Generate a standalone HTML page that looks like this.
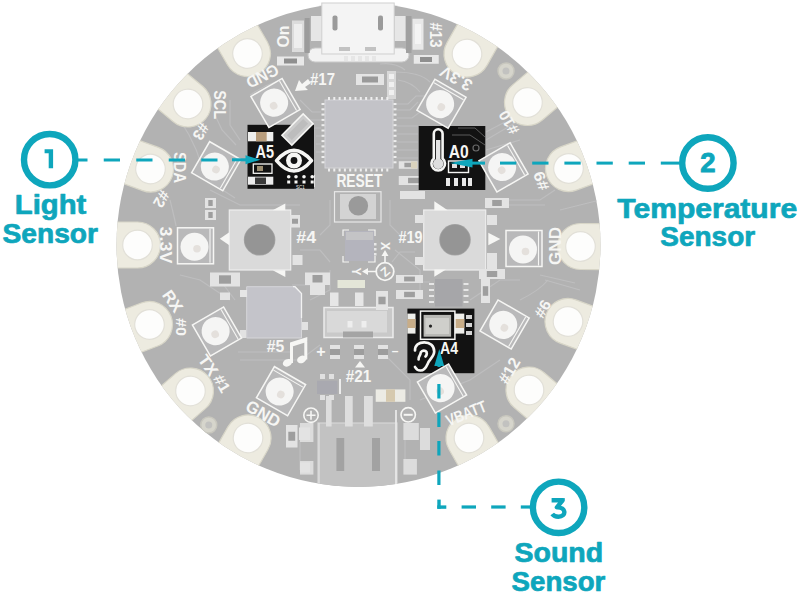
<!DOCTYPE html><html><head><meta charset="utf-8"><style>html,body{margin:0;padding:0;background:#fff;width:800px;height:600px;overflow:hidden}svg{display:block}text{font-family:"Liberation Sans",sans-serif}</style></head><body>
<svg width="800" height="600" viewBox="0 0 800 600">
<defs><clipPath id="bc"><circle cx="358.5" cy="245" r="242"/></clipPath></defs>
<rect width="800" height="600" fill="#fff"/>
<circle cx="358.5" cy="245" r="242" fill="#b2b2b2"/>
<g clip-path="url(#bc)">
<path d="M397 104 H408 L416 96 H432" fill="none" stroke="#bebebf" stroke-width="1.2"/>
<path d="M397 110 H410 L418 102" fill="none" stroke="#bebebf" stroke-width="1.2"/>
<path d="M397 118 H412 L420 112" fill="none" stroke="#bebebf" stroke-width="1.2"/>
<path d="M397 126 H418" fill="none" stroke="#bebebf" stroke-width="1.2"/>
<path d="M397 134 H418" fill="none" stroke="#bebebf" stroke-width="1.2"/>
<path d="M397 142 H418" fill="none" stroke="#bebebf" stroke-width="1.2"/>
<path d="M397 150 H418" fill="none" stroke="#bebebf" stroke-width="1.2"/>
<path d="M397 158 H418" fill="none" stroke="#bebebf" stroke-width="1.2"/>
<path d="M321 112 H312 L300 100" fill="none" stroke="#bebebf" stroke-width="1.2"/>
<path d="M321 120 H306 L298 128 V140" fill="none" stroke="#bebebf" stroke-width="1.2"/>
<path d="M321 128 H314 V150" fill="none" stroke="#bebebf" stroke-width="1.2"/>
<path d="M321 136 H316" fill="none" stroke="#bebebf" stroke-width="1.2"/>
<path d="M321 144 H316" fill="none" stroke="#bebebf" stroke-width="1.2"/>
<path d="M321 152 H316" fill="none" stroke="#bebebf" stroke-width="1.2"/>
<path d="M395 72 Q420 72 430 82" fill="none" stroke="#bebebf" stroke-width="1.2"/>
<path d="M398 80 Q412 82 420 92" fill="none" stroke="#bebebf" stroke-width="1.2"/>
<path d="M380 64 Q395 62 405 70" fill="none" stroke="#bebebf" stroke-width="1.2"/>
<path d="M240 140 L230 125 L230 100" fill="none" stroke="#bebebf" stroke-width="1.2"/>
<path d="M236 145 L222 130 L215 115" fill="none" stroke="#bebebf" stroke-width="1.2"/>
<path d="M210 190 L240 205 L300 205" fill="none" stroke="#bebebf" stroke-width="1.2"/>
<path d="M215 185 L235 198" fill="none" stroke="#bebebf" stroke-width="1.2"/>
<path d="M486 140 L520 120 L545 110" fill="none" stroke="#bebebf" stroke-width="1.2"/>
<path d="M486 150 L520 140" fill="none" stroke="#bebebf" stroke-width="1.2"/>
<path d="M486 132 L505 122" fill="none" stroke="#bebebf" stroke-width="1.2"/>
<path d="M230 300 L200 280 L180 275" fill="none" stroke="#bebebf" stroke-width="1.2"/>
<path d="M240 360 L300 360 L320 345" fill="none" stroke="#bebebf" stroke-width="1.2"/>
<path d="M238 352 L290 352" fill="none" stroke="#bebebf" stroke-width="1.2"/>
<path d="M500 200 L540 200 L555 190" fill="none" stroke="#bebebf" stroke-width="1.2"/>
<path d="M470 300 L500 280 L520 280" fill="none" stroke="#bebebf" stroke-width="1.2"/>
<path d="M505 205 L545 205" fill="none" stroke="#bebebf" stroke-width="1.2"/>
<path d="M560 210 L600 200" fill="none" stroke="#bebebf" stroke-width="1.2"/>
<path d="M545 280 L580 290" fill="none" stroke="#bebebf" stroke-width="1.2"/>
<path d="M540 275 L575 283" fill="none" stroke="#bebebf" stroke-width="1.2"/>
<path d="M420 400 L470 380 L500 360" fill="none" stroke="#bebebf" stroke-width="1.2"/>
<path d="M310 300 L330 290 L330 270" fill="none" stroke="#bebebf" stroke-width="1.2"/>
<path d="M395 250 L420 270 L420 290" fill="none" stroke="#bebebf" stroke-width="1.2"/>
<path d="M380 350 L410 380 L410 400" fill="none" stroke="#bebebf" stroke-width="1.2"/>
<path d="M220 280 L235 300" fill="none" stroke="#bebebf" stroke-width="1.2"/>
<path d="M300 430 L300 470" fill="none" stroke="#bebebf" stroke-width="1.2"/>
<path d="M405 430 L405 470" fill="none" stroke="#bebebf" stroke-width="1.2"/>
<path d="M180 120 Q200 150 205 180" fill="none" stroke="#bebebf" stroke-width="1.2"/>
<path d="M170 200 Q175 220 176 226" fill="none" stroke="#bebebf" stroke-width="1.2"/>
<path d="M520 300 Q540 290 548 280" fill="none" stroke="#bebebf" stroke-width="1.2"/>
<path d="M250 95 Q265 85 280 80" fill="none" stroke="#bebebf" stroke-width="1.2"/>
<path d="M330 200 V225 L320 235" fill="none" stroke="#bebebf" stroke-width="1.2"/>
<path d="M390 200 V225 L400 235" fill="none" stroke="#bebebf" stroke-width="1.2"/>
<path d="M300 250 H320 L330 262" fill="none" stroke="#bebebf" stroke-width="1.2"/>
<path d="M415 252 H400 L392 262" fill="none" stroke="#bebebf" stroke-width="1.2"/>
<path d="M292 285 H325" fill="none" stroke="#bebebf" stroke-width="1.2"/>
<path d="M395 282 H430" fill="none" stroke="#bebebf" stroke-width="1.2"/>
<g transform="rotate(-120.10 358.5 245)">
<path d="M579.844 222 A23 23 0 0 0 579.844 268 L619.844 268 L619.844 222 Z" fill="#edebe0" stroke="#d8d6c8" stroke-width="1.2"/>
<circle cx="579.844" cy="245" r="14.8" fill="#fdfdfc" stroke="#e2e0d8" stroke-width="1.2"/>
</g>
<g transform="rotate(-140.41 358.5 245)">
<path d="M579.749 222 A23 23 0 0 0 579.749 268 L619.749 268 L619.749 222 Z" fill="#edebe0" stroke="#d8d6c8" stroke-width="1.2"/>
<circle cx="579.749" cy="245" r="14.8" fill="#fdfdfc" stroke="#e2e0d8" stroke-width="1.2"/>
</g>
<g transform="rotate(-159.93 358.5 245)">
<path d="M579.95 222 A23 23 0 0 0 579.95 268 L619.95 268 L619.95 222 Z" fill="#edebe0" stroke="#d8d6c8" stroke-width="1.2"/>
<circle cx="579.95" cy="245" r="14.8" fill="#fdfdfc" stroke="#e2e0d8" stroke-width="1.2"/>
</g>
<g transform="rotate(180.00 358.5 245)">
<path d="M579.5 222 A23 23 0 0 0 579.5 268 L619.5 268 L619.5 222 Z" fill="#edebe0" stroke="#d8d6c8" stroke-width="1.2"/>
<circle cx="579.5" cy="245" r="14.8" fill="#fdfdfc" stroke="#e2e0d8" stroke-width="1.2"/>
</g>
<g transform="rotate(159.17 358.5 245)">
<path d="M582.11 222 A23 23 0 0 0 582.11 268 L622.11 268 L622.11 222 Z" fill="#edebe0" stroke="#d8d6c8" stroke-width="1.2"/>
<circle cx="582.11" cy="245" r="14.8" fill="#fdfdfc" stroke="#e2e0d8" stroke-width="1.2"/>
</g>
<g transform="rotate(139.01 358.5 245)">
<path d="M581.076 222 A23 23 0 0 0 581.076 268 L621.076 268 L621.076 222 Z" fill="#edebe0" stroke="#d8d6c8" stroke-width="1.2"/>
<circle cx="581.076" cy="245" r="14.8" fill="#fdfdfc" stroke="#e2e0d8" stroke-width="1.2"/>
</g>
<g transform="rotate(119.79 358.5 245)">
<path d="M580.894 222 A23 23 0 0 0 580.894 268 L620.894 268 L620.894 222 Z" fill="#edebe0" stroke="#d8d6c8" stroke-width="1.2"/>
<circle cx="580.894" cy="245" r="14.8" fill="#fdfdfc" stroke="#e2e0d8" stroke-width="1.2"/>
</g>
<g transform="rotate(60.21 358.5 245)">
<path d="M580.894 222 A23 23 0 0 0 580.894 268 L620.894 268 L620.894 222 Z" fill="#edebe0" stroke="#d8d6c8" stroke-width="1.2"/>
<circle cx="580.894" cy="245" r="14.8" fill="#fdfdfc" stroke="#e2e0d8" stroke-width="1.2"/>
</g>
<g transform="rotate(40.38 358.5 245)">
<path d="M582.32 222 A23 23 0 0 0 582.32 268 L622.32 268 L622.32 222 Z" fill="#edebe0" stroke="#d8d6c8" stroke-width="1.2"/>
<circle cx="582.32" cy="245" r="14.8" fill="#fdfdfc" stroke="#e2e0d8" stroke-width="1.2"/>
</g>
<g transform="rotate(20.06 358.5 245)">
<path d="M581.53 222 A23 23 0 0 0 581.53 268 L621.53 268 L621.53 222 Z" fill="#edebe0" stroke="#d8d6c8" stroke-width="1.2"/>
<circle cx="581.53" cy="245" r="14.8" fill="#fdfdfc" stroke="#e2e0d8" stroke-width="1.2"/>
</g>
<g transform="rotate(0.39 358.5 245)">
<path d="M580.505 222 A23 23 0 0 0 580.505 268 L620.505 268 L620.505 222 Z" fill="#edebe0" stroke="#d8d6c8" stroke-width="1.2"/>
<circle cx="580.505" cy="245" r="14.8" fill="#fdfdfc" stroke="#e2e0d8" stroke-width="1.2"/>
</g>
<g transform="rotate(-20.02 358.5 245)">
<path d="M582 222 A23 23 0 0 0 582 268 L622 268 L622 222 Z" fill="#edebe0" stroke="#d8d6c8" stroke-width="1.2"/>
<circle cx="582" cy="245" r="14.8" fill="#fdfdfc" stroke="#e2e0d8" stroke-width="1.2"/>
</g>
<g transform="rotate(-40.14 358.5 245)">
<path d="M579.559 222 A23 23 0 0 0 579.559 268 L619.559 268 L619.559 222 Z" fill="#edebe0" stroke="#d8d6c8" stroke-width="1.2"/>
<circle cx="579.559" cy="245" r="14.8" fill="#fdfdfc" stroke="#e2e0d8" stroke-width="1.2"/>
</g>
<g transform="rotate(-60.40 358.5 245)">
<path d="M578.166 222 A23 23 0 0 0 578.166 268 L618.166 268 L618.166 222 Z" fill="#edebe0" stroke="#d8d6c8" stroke-width="1.2"/>
<circle cx="578.166" cy="245" r="14.8" fill="#fdfdfc" stroke="#e2e0d8" stroke-width="1.2"/>
</g>
<circle cx="208.75" cy="425" r="8" fill="#d6d5cc" stroke="#c8c7be" stroke-width="1.5"/>
<circle cx="208.75" cy="425" r="3.5" fill="#c2c2c0"/>
<circle cx="506" cy="423.75" r="8" fill="#d6d5cc" stroke="#c8c7be" stroke-width="1.5"/>
<circle cx="506" cy="423.75" r="3.5" fill="#c2c2c0"/>
<circle cx="506" cy="71" r="8" fill="#d6d5cc" stroke="#c8c7be" stroke-width="1.5"/>
<circle cx="506" cy="71" r="3.5" fill="#c2c2c0"/>
</g>
<rect x="308" y="48" width="101" height="14" rx="7" fill="#f2f2f2" stroke="#c9c9c9" stroke-width="1"/>
<rect x="311" y="16" width="11" height="25" fill="#e6e6e6"/>
<rect x="394.5" y="16" width="11" height="25" fill="#e6e6e6"/>
<rect x="321.8" y="3" width="72.4" height="51" fill="#f4f4f4" stroke="#cfcfcf" stroke-width="1"/>
<rect x="332.5" y="15.5" width="5" height="15" rx="2" fill="#9a9a9a"/>
<rect x="378" y="15.5" width="5" height="15" rx="2" fill="#9a9a9a"/>
<rect x="339" y="47" width="11" height="4" fill="#c2c2c2"/><rect x="365" y="47" width="11" height="4" fill="#c2c2c2"/>
<rect x="344" y="56" width="4" height="5" fill="#e6e6e6"/>
<rect x="351" y="56" width="4" height="5" fill="#e6e6e6"/>
<rect x="358" y="56" width="4" height="5" fill="#e6e6e6"/>
<rect x="365" y="56" width="4" height="5" fill="#e6e6e6"/>
<rect x="372" y="56" width="4" height="5" fill="#e6e6e6"/>
<rect x="292" y="20.5" width="12" height="31.5" fill="#dcdcdc"/>
<rect x="294" y="24" width="8" height="24" fill="#eeeeee"/>
<rect x="304.7" y="18" width="5" height="35" fill="#9c9c9c"/><rect x="406" y="16" width="5.5" height="37" fill="#a0a0a0"/>
<rect x="277" y="56.5" width="27" height="9" fill="#e8e8e8"/><rect x="284" y="58.5" width="13" height="5" fill="#8f8f8f"/>
<rect x="412.5" y="18.75" width="11" height="31" fill="#e8e8e8"/><rect x="415" y="24" width="6" height="20" fill="#f4f4f4"/>
<rect x="413.75" y="55" width="25" height="8.75" fill="#e8e8e8"/><rect x="420" y="57" width="12" height="5" fill="#8f8f8f"/>
<rect x="356" y="74" width="28" height="11" fill="#e4e4e4"/><rect x="362" y="76.5" width="16" height="6" fill="#9a9a9a"/>
<rect x="325" y="100" width="68" height="68" fill="#c3c3c8" stroke="#d4d4d7" stroke-width="1"/>
<rect x="387" y="71" width="9" height="28" fill="#d8d8d8"/><rect x="389" y="74" width="5" height="5" fill="#f0f0f0"/><rect x="389" y="82" width="5" height="5" fill="#f0f0f0"/><rect x="389" y="90" width="5" height="5" fill="#f0f0f0"/>
<rect x="328" y="97" width="2" height="3" fill="#eee"/>
<rect x="328" y="168.5" width="2" height="3" fill="#eee"/>
<rect x="321.5" y="103" width="3" height="2" fill="#eee"/>
<rect x="393.5" y="103" width="3" height="2" fill="#eee"/>
<rect x="333.3" y="97" width="2" height="3" fill="#eee"/>
<rect x="333.3" y="168.5" width="2" height="3" fill="#eee"/>
<rect x="321.5" y="108.3" width="3" height="2" fill="#eee"/>
<rect x="393.5" y="108.3" width="3" height="2" fill="#eee"/>
<rect x="338.6" y="97" width="2" height="3" fill="#eee"/>
<rect x="338.6" y="168.5" width="2" height="3" fill="#eee"/>
<rect x="321.5" y="113.6" width="3" height="2" fill="#eee"/>
<rect x="393.5" y="113.6" width="3" height="2" fill="#eee"/>
<rect x="343.9" y="97" width="2" height="3" fill="#eee"/>
<rect x="343.9" y="168.5" width="2" height="3" fill="#eee"/>
<rect x="321.5" y="118.9" width="3" height="2" fill="#eee"/>
<rect x="393.5" y="118.9" width="3" height="2" fill="#eee"/>
<rect x="349.2" y="97" width="2" height="3" fill="#eee"/>
<rect x="349.2" y="168.5" width="2" height="3" fill="#eee"/>
<rect x="321.5" y="124.2" width="3" height="2" fill="#eee"/>
<rect x="393.5" y="124.2" width="3" height="2" fill="#eee"/>
<rect x="354.5" y="97" width="2" height="3" fill="#eee"/>
<rect x="354.5" y="168.5" width="2" height="3" fill="#eee"/>
<rect x="321.5" y="129.5" width="3" height="2" fill="#eee"/>
<rect x="393.5" y="129.5" width="3" height="2" fill="#eee"/>
<rect x="359.8" y="97" width="2" height="3" fill="#eee"/>
<rect x="359.8" y="168.5" width="2" height="3" fill="#eee"/>
<rect x="321.5" y="134.8" width="3" height="2" fill="#eee"/>
<rect x="393.5" y="134.8" width="3" height="2" fill="#eee"/>
<rect x="365.1" y="97" width="2" height="3" fill="#eee"/>
<rect x="365.1" y="168.5" width="2" height="3" fill="#eee"/>
<rect x="321.5" y="140.1" width="3" height="2" fill="#eee"/>
<rect x="393.5" y="140.1" width="3" height="2" fill="#eee"/>
<rect x="370.4" y="97" width="2" height="3" fill="#eee"/>
<rect x="370.4" y="168.5" width="2" height="3" fill="#eee"/>
<rect x="321.5" y="145.4" width="3" height="2" fill="#eee"/>
<rect x="393.5" y="145.4" width="3" height="2" fill="#eee"/>
<rect x="375.7" y="97" width="2" height="3" fill="#eee"/>
<rect x="375.7" y="168.5" width="2" height="3" fill="#eee"/>
<rect x="321.5" y="150.7" width="3" height="2" fill="#eee"/>
<rect x="393.5" y="150.7" width="3" height="2" fill="#eee"/>
<rect x="381" y="97" width="2" height="3" fill="#eee"/>
<rect x="381" y="168.5" width="2" height="3" fill="#eee"/>
<rect x="321.5" y="156" width="3" height="2" fill="#eee"/>
<rect x="393.5" y="156" width="3" height="2" fill="#eee"/>
<rect x="386.3" y="97" width="2" height="3" fill="#eee"/>
<rect x="386.3" y="168.5" width="2" height="3" fill="#eee"/>
<rect x="321.5" y="161.3" width="3" height="2" fill="#eee"/>
<rect x="393.5" y="161.3" width="3" height="2" fill="#eee"/>
<rect x="229.3" y="210" width="61.4" height="60" fill="#dadada" stroke="#eeeeee" stroke-width="1.2"/>
<circle cx="259.6" cy="239.8" r="15.8" fill="#a4a4a4"/>
<circle cx="259.6" cy="239.8" r="15" fill="#959595"/>
<rect x="423.7" y="210" width="62" height="60" fill="#dadada" stroke="#eeeeee" stroke-width="1.2"/>
<circle cx="455" cy="239.8" r="15.8" fill="#a4a4a4"/>
<circle cx="455" cy="239.8" r="15" fill="#959595"/>
<path d="M219.8 238.8 L229.3 232.3 L229.3 245.3 Z" fill="#f6f6f4"/>
<path d="M500.3 239 L488.3 232.7 L488.3 245.3 Z" fill="#f6f6f4"/>
<path d="M272.7 210.2 L285.3 210.2 L285.3 203.5 Z" fill="#f6f6f4"/>
<path d="M272.7 270.2 L285.3 270.2 L285.3 277 Z" fill="#f6f6f4"/>
<path d="M434.3 201.3 L447.7 210.2 L434.3 210.2 Z" fill="#f6f6f4"/>
<path d="M434.3 269.5 L446 269.5 L434.3 276.7 Z" fill="#f6f6f4"/>
<rect x="334.5" y="191.7" width="46.5" height="30.3" fill="none" stroke="#e8e8e8" stroke-width="1.2"/>
<rect x="340" y="194" width="36" height="25" fill="#d3d3d3"/>
<circle cx="358.3" cy="205.8" r="9.8" fill="#9a9a9a"/>
<rect x="345" y="231" width="29" height="30" fill="#b4b4bd"/><rect x="346" y="232" width="27" height="8" fill="#c4c4c6"/>
<path d="M343 236 V230 H349 M368 230 H375 V236 M375 256 V262 H368 M349 262 H343 V256" fill="none" stroke="#f6f6f4" stroke-width="1.2"/>
<circle cx="385" cy="271.5" r="8.8" fill="none" stroke="#f6f6f4" stroke-width="1.8"/>
<text x="385" y="276" font-size="12.5" font-weight="bold" fill="#f6f6f4" text-anchor="middle" transform="rotate(-40 385 271.5)">Z</text>
<path d="M385 262.5 V252 M376 271.5 H364" stroke="#f6f6f4" stroke-width="1.6"/>
<path d="M385 250 L381.5 256 L388.5 256 Z M362 271.5 L368 268 L368 275 Z" fill="#f6f6f4"/>
<text x="385" y="246" font-size="12" font-weight="bold" fill="#f6f6f4" text-anchor="middle" dominant-baseline="central" transform="rotate(90 385 246)">X</text>
<text x="356" y="271.5" font-size="12" font-weight="bold" fill="#f6f6f4" text-anchor="middle" dominant-baseline="central" transform="rotate(90 356 271.5)">Y</text>
<rect x="374" y="243" width="2.5" height="2.5" fill="#e8e8e8"/>
<rect x="374" y="248" width="2.5" height="2.5" fill="#e8e8e8"/>
<rect x="374" y="253" width="2.5" height="2.5" fill="#e8e8e8"/>
<path d="M246.7 286.7 H295 L301.5 293.5 V338 H246.7 Z" fill="#c4c4ca" stroke="#d6d6d9" stroke-width="1"/>
<path d="M293 286.7 H295 L301.5 293.5 V318" fill="none" stroke="#f2f2f2" stroke-width="1.3"/>
<rect x="240" y="290" width="7" height="7" fill="#e6e6e6"/><rect x="302" y="322" width="6" height="8" fill="#e2e2e2"/><rect x="240" y="330" width="6" height="8" fill="#e2e2e2"/>
<rect x="324" y="307.5" width="69" height="30" fill="#c9c9c9" stroke="#ececec" stroke-width="1.5"/>
<rect x="327" y="311" width="60" height="21.5" fill="#d9d9d9"/>
<rect x="343" y="331.5" width="30" height="6" fill="#a4a4a4"/>
<rect x="347.5" y="321" width="5" height="6.5" fill="#eeeeee"/><rect x="361.5" y="321" width="5" height="6.5" fill="#eeeeee"/>
<rect x="330" y="292.5" width="8.5" height="13.5" fill="#e6e6e6"/>
<rect x="355" y="292.5" width="8.5" height="13.5" fill="#e6e6e6"/>
<rect x="378" y="292.5" width="8.5" height="13.5" fill="#e6e6e6"/>
<rect x="337.5" y="280" width="27.5" height="8" fill="#e4e6d8"/>
<rect x="435" y="279" width="27.5" height="27.5" fill="#a6a6a9"/>
<rect x="429" y="283" width="5" height="2" fill="#e6e6e6"/><rect x="463.5" y="283" width="5" height="2" fill="#e6e6e6"/>
<rect x="429" y="289" width="5" height="2" fill="#e6e6e6"/><rect x="463.5" y="289" width="5" height="2" fill="#e6e6e6"/>
<rect x="429" y="295" width="5" height="2" fill="#e6e6e6"/><rect x="463.5" y="295" width="5" height="2" fill="#e6e6e6"/>
<rect x="429" y="301" width="5" height="2" fill="#e6e6e6"/><rect x="463.5" y="301" width="5" height="2" fill="#e6e6e6"/>
<rect x="330" y="345" width="10" height="14" fill="#e3e3e3"/><rect x="330" y="349" width="10" height="6" fill="#9d9d9d"/>
<rect x="354" y="345" width="10" height="14" fill="#e3e3e3"/><rect x="354" y="349" width="10" height="6" fill="#9d9d9d"/>
<rect x="378" y="345" width="10" height="14" fill="#e3e3e3"/><rect x="378" y="349" width="10" height="6" fill="#9d9d9d"/>
<g clip-path="url(#bc)">
<rect x="318" y="423" width="79" height="70" fill="#c2c2c2" stroke="#d6d6d6" stroke-width="1.2"/>
<path d="M396 410 V490" stroke="#e8e8e8" stroke-width="1.8"/><path d="M319 423 V490" stroke="#dcdcdc" stroke-width="1.5"/>
</g>
<rect x="336.4" y="438" width="7.8" height="33" fill="#a2a2a2"/>
<rect x="372" y="438" width="8" height="33" fill="#a2a2a2"/>
<rect x="345" y="396" width="7.7" height="30.5" fill="#dedede"/>
<rect x="364" y="396" width="8.8" height="30.5" fill="#dedede"/>
<rect x="326" y="396" width="5.6" height="30.5" fill="#dedede"/>
<rect x="317" y="380.7" width="20.4" height="13.3" fill="#a9a9b0"/>
<rect x="339" y="379" width="2" height="15" fill="#ececec"/>
<rect x="320" y="374" width="5" height="5" fill="#e0e0e0"/><rect x="329" y="374" width="5" height="5" fill="#e0e0e0"/><rect x="320" y="395" width="5" height="5" fill="#e0e0e0"/><rect x="329" y="395" width="5" height="5" fill="#e0e0e0"/>
<rect x="375.7" y="389.4" width="29.7" height="12.4" fill="#ecebe4"/><rect x="386" y="389.4" width="9" height="12.4" fill="#d6c9ae"/>
<rect x="300" y="423" width="13.4" height="19" fill="#dcdcdc"/>
<rect x="300" y="461" width="13.4" height="13.6" fill="#dcdcdc"/>
<rect x="403.4" y="423" width="15.4" height="17" fill="#dcdcdc"/>
<rect x="403.4" y="459" width="13.5" height="15.6" fill="#dcdcdc"/>
<rect x="287" y="425" width="8" height="18" fill="#dcdcdc"/>
<rect x="420" y="428" width="10" height="22" fill="#dcdcdc"/>
<circle cx="311" cy="415.2" r="7.2" fill="none" stroke="#f6f6f4" stroke-width="1.6"/><path d="M306.5 415.2 H315.5 M311 410.7 V419.7" stroke="#f6f6f4" stroke-width="1.6"/>
<circle cx="408.2" cy="414.8" r="7.2" fill="none" stroke="#f6f6f4" stroke-width="1.6"/><path d="M403.7 414.8 H412.7" stroke="#f6f6f4" stroke-width="2"/>
<rect x="398.75" y="161.25" width="18.75" height="7.5" fill="#e3e3e3"/>
<rect x="404.375" y="162.75" width="7.5" height="4.5" fill="#9e9e9e"/>
<rect x="398.75" y="176" width="31" height="9" fill="#e3e3e3"/>
<rect x="408.05" y="177.8" width="12.4" height="5.4" fill="#9e9e9e"/>
<rect x="400" y="191" width="25" height="8" fill="#e3e3e3"/>
<rect x="300" y="175" width="15" height="12" fill="#e3e3e3"/>
<rect x="485" y="198" width="24" height="10" fill="#e3e3e3"/>
<rect x="492.2" y="200" width="9.6" height="6" fill="#9e9e9e"/>
<rect x="487" y="215" width="10" height="10" fill="#e3e3e3"/>
<rect x="487" y="253" width="10" height="16" fill="#e3e3e3"/>
<rect x="479" y="269" width="26" height="10" fill="#e3e3e3"/>
<rect x="486.8" y="271" width="10.4" height="6" fill="#9e9e9e"/>
<rect x="481" y="279" width="9" height="24" fill="#e3e3e3"/>
<rect x="482.8" y="286.2" width="5.4" height="9.6" fill="#9e9e9e"/>
<rect x="396" y="275" width="27" height="8" fill="#e3e3e3"/>
<rect x="404.1" y="276.6" width="10.8" height="4.8" fill="#9e9e9e"/>
<rect x="396" y="290" width="27" height="9" fill="#e3e3e3"/>
<rect x="404.1" y="291.8" width="10.8" height="5.4" fill="#9e9e9e"/>
<rect x="376" y="291" width="12" height="19" fill="#e3e3e3"/>
<rect x="378.4" y="296.7" width="7.2" height="7.6" fill="#9e9e9e"/>
<rect x="415" y="215" width="9" height="8" fill="#e3e3e3"/>
<rect x="415" y="257" width="9" height="8" fill="#e3e3e3"/>
<rect x="205" y="198" width="11" height="10" fill="#e3e3e3"/>
<rect x="208.3" y="200" width="4.4" height="6" fill="#9e9e9e"/>
<rect x="205" y="210" width="11" height="10" fill="#e3e3e3"/>
<rect x="208.3" y="212" width="4.4" height="6" fill="#9e9e9e"/>
<rect x="210" y="272.5" width="30" height="14" fill="#e3e3e3"/>
<rect x="219" y="275.3" width="12" height="8.4" fill="#9e9e9e"/>
<rect x="220" y="292.5" width="10" height="7.5" fill="#e3e3e3"/>
<rect x="290" y="215" width="10" height="12.5" fill="#e3e3e3"/>
<rect x="292" y="218.75" width="6" height="5" fill="#9e9e9e"/>
<rect x="292.5" y="255" width="10" height="10" fill="#e3e3e3"/>
<rect x="305" y="272.5" width="25" height="12.5" fill="#e3e3e3"/>
<rect x="312.5" y="275" width="10" height="7.5" fill="#9e9e9e"/>
<rect x="310" y="285" width="15" height="10" fill="#e3e3e3"/>
<rect x="286" y="425" width="11.5" height="22.5" fill="#e3e3e3"/>
<rect x="288.3" y="431.75" width="6.9" height="9" fill="#9e9e9e"/>
<rect x="299" y="427.5" width="11" height="12.5" fill="#e3e3e3"/>
<rect x="300" y="462.5" width="10" height="10" fill="#e3e3e3"/>
<rect x="411" y="161.5" width="6" height="7" fill="#d9d2bd"/>
<rect x="247.5" y="124.8" width="66.5" height="64" fill="#121212"/>
<rect x="418.7" y="126" width="66.6" height="64" fill="#121212"/>
<rect x="407.4" y="308.6" width="67" height="64.6" fill="#121212"/>
<rect x="248" y="132" width="25.3" height="9.3" fill="#f0f0ee"/><rect x="256" y="132" width="10.7" height="9.3" fill="#b89d7c"/>
<rect x="253.3" y="164" width="18.7" height="9.3" fill="none" stroke="#f6f6f4" stroke-width="1.3"/><rect x="257" y="166" width="6" height="5" fill="#9b8d70"/>
<rect x="248" y="176.7" width="25.3" height="8" fill="#ececec"/><rect x="255" y="177.5" width="11" height="6.5" fill="#3a3a3a"/>
<g transform="rotate(-45 297.5 129.5)"><rect x="282.5" y="122.5" width="30" height="14" fill="#cbcbcb" stroke="#f6f6f4" stroke-width="1.6"/><rect x="286" y="126" width="23" height="7" fill="#bdbdbd"/></g>
<circle cx="288.7" cy="176.7" r="1.8" fill="#f6f6f4"/><rect x="287.2" y="180.5" width="3" height="3" fill="#f6f6f4"/>
<circle cx="296" cy="176.7" r="1.8" fill="#f6f6f4"/><rect x="294.5" y="180.5" width="3" height="3" fill="#f6f6f4"/>
<circle cx="304" cy="176.7" r="1.8" fill="#f6f6f4"/><rect x="302.5" y="180.5" width="3" height="3" fill="#f6f6f4"/>
<circle cx="312.2" cy="176.7" r="1.8" fill="#f6f6f4"/><rect x="310.7" y="180.5" width="3" height="3" fill="#f6f6f4"/>
<text x="300.5" y="189" font-size="4.5" fill="#f6f6f4" text-anchor="middle">SC1</text>
<text x="255.5" y="158.4" font-size="17.5" font-weight="bold" fill="#f6f6f4" textLength="18.5" lengthAdjust="spacingAndGlyphs">A5</text>
<path d="M276.5 160.7 Q294 140 311.5 160.7 Q294 181.4 276.5 160.7 Z" fill="#121212" stroke="#f6f6f4" stroke-width="3.6" stroke-linejoin="round"/>
<circle cx="294" cy="160.5" r="8" fill="#f6f6f4"/><circle cx="294" cy="160.5" r="3.4" fill="#121212"/>
<path d="M433.8 158.5 V133.7 A4.4 4.4 0 0 1 442.6 133.7 V158.5 A6.8 6.8 0 1 1 433.8 158.5 Z" fill="#121212" stroke="#f6f6f4" stroke-width="2.6"/>
<rect x="436" y="140" width="4.4" height="22" fill="#e4e4e4"/><circle cx="438.2" cy="163.7" r="5.2" fill="#dedede"/>
<text x="448.7" y="158" font-size="17.5" font-weight="bold" fill="#f6f6f4" textLength="20" lengthAdjust="spacingAndGlyphs">A0</text>
<rect x="448.5" y="161" width="20" height="11.5" fill="none" stroke="#f6f6f4" stroke-width="1.4"/><rect x="452" y="164" width="5" height="4" fill="#e0e0e0"/><rect x="460" y="164" width="5" height="4" fill="#e0e0e0"/>
<rect x="446" y="178" width="4" height="8" fill="#e8e8e8"/>
<rect x="454" y="178" width="4" height="8" fill="#e8e8e8"/>
<rect x="462" y="178" width="4" height="8" fill="#e8e8e8"/>
<rect x="468" y="178" width="4" height="8" fill="#e8e8e8"/>
<path d="M452 135 L470 135 L485 145 M458 128 L475 128 L485 137" fill="none" stroke="#5a5a5a" stroke-width="1"/>
<circle cx="476" cy="148" r="3" fill="none" stroke="#6a6a6a" stroke-width="1.2"/>
<rect x="407.4" y="313.6" width="8.1" height="20" fill="#eeeeea"/><rect x="407.4" y="319" width="8.1" height="9" fill="#c8ad88"/>
<rect x="455" y="313.6" width="9.3" height="20" fill="#eeeeea"/><rect x="455" y="319" width="9.3" height="9" fill="#c8ad88"/>
<rect x="420.5" y="311.1" width="34.4" height="28.2" fill="none" stroke="#f6f6f4" stroke-width="1.5"/>
<rect x="423.6" y="314.9" width="27.5" height="21.8" fill="#b8b8b4"/><rect x="425.5" y="318" width="23.5" height="16" fill="#cfcfcb"/>
<circle cx="430.5" cy="326.1" r="1.6" fill="#222"/>
<rect x="466" y="315" width="6" height="4" fill="#d5d5d5"/><rect x="466" y="323" width="6" height="4" fill="#d5d5d5"/><rect x="466" y="331" width="6" height="4" fill="#d5d5d5"/>
<path d="M415 350.5 C415 345 419 342.3 424.3 342.3 C430 342.3 434.2 346 434.2 351.5 C434.2 356 430.5 358.5 428.5 362 C426.8 365.5 425.5 370.5 420.5 370.5 C418 370.5 416 369 415 367 M418.6 359.5 C418 356.5 420.5 355.5 420.5 353.5 C420.5 351.5 423 350 425.5 351 C427.5 352 427 355 425.5 356.5" fill="none" stroke="#f6f6f4" stroke-width="2.7" stroke-linecap="round"/>
<text x="440" y="354.3" font-size="16" font-weight="bold" fill="#f6f6f4" textLength="18" lengthAdjust="spacingAndGlyphs">A4</text>
<g transform="translate(275.50 103.00) rotate(60)">
<rect x="-18" y="-18" width="36" height="36" fill="#b9b9ba" stroke="#f6f6f4" stroke-width="1.5"/>
<path d="M-17 -14.5 H17" stroke="#f6f6f4" stroke-width="1.1"/>
<circle cx="-1" cy="1" r="14" fill="#f5f5f4"/>
<circle cx="1.5" cy="3" r="3.8" fill="#e4e0dc"/>
</g>
<g transform="translate(216.20 166.20) rotate(30)">
<rect x="-18" y="-18" width="36" height="36" fill="#b9b9ba" stroke="#f6f6f4" stroke-width="1.5"/>
<path d="M14.5 -17 V17" stroke="#f6f6f4" stroke-width="1.1"/>
<circle cx="-1" cy="1" r="14" fill="#f5f5f4"/>
<circle cx="1.5" cy="3" r="3.8" fill="#e4e0dc"/>
</g>
<g transform="translate(195.50 245.80) rotate(0)">
<rect x="-18" y="-18" width="36" height="36" fill="#b9b9ba" stroke="#f6f6f4" stroke-width="1.5"/>
<path d="M14.5 -17 V17" stroke="#f6f6f4" stroke-width="1.1"/>
<circle cx="-1" cy="1" r="14" fill="#f5f5f4"/>
<circle cx="1.5" cy="3" r="3.8" fill="#e4e0dc"/>
</g>
<g transform="translate(217.00 331.50) rotate(60)">
<rect x="-18" y="-18" width="36" height="36" fill="#b9b9ba" stroke="#f6f6f4" stroke-width="1.5"/>
<path d="M-17 -14.5 H17" stroke="#f6f6f4" stroke-width="1.1"/>
<circle cx="-1" cy="1" r="14" fill="#f5f5f4"/>
<circle cx="1.5" cy="3" r="3.8" fill="#e4e0dc"/>
</g>
<g transform="translate(281.00 391.20) rotate(30)">
<rect x="-18" y="-18" width="36" height="36" fill="#b9b9ba" stroke="#f6f6f4" stroke-width="1.5"/>
<path d="M-17 -14.5 H17" stroke="#f6f6f4" stroke-width="1.1"/>
<circle cx="-1" cy="1" r="14" fill="#f5f5f4"/>
<circle cx="1.5" cy="3" r="3.8" fill="#e4e0dc"/>
</g>
<g transform="translate(442.00 388.50) rotate(60)">
<rect x="-18" y="-18" width="36" height="36" fill="#b9b9ba" stroke="#f6f6f4" stroke-width="1.5"/>
<path d="M-17 -14.5 H17" stroke="#f6f6f4" stroke-width="1.1"/>
<circle cx="-1" cy="1" r="14" fill="#f5f5f4"/>
<circle cx="1.5" cy="3" r="3.8" fill="#e4e0dc"/>
</g>
<g transform="translate(504.60 324.50) rotate(30)">
<rect x="-18" y="-18" width="36" height="36" fill="#b9b9ba" stroke="#f6f6f4" stroke-width="1.5"/>
<path d="M14.5 -17 V17" stroke="#f6f6f4" stroke-width="1.1"/>
<circle cx="-1" cy="1" r="14" fill="#f5f5f4"/>
<circle cx="1.5" cy="3" r="3.8" fill="#e4e0dc"/>
</g>
<g transform="translate(524.00 248.50) rotate(0)">
<rect x="-18" y="-18" width="36" height="36" fill="#b9b9ba" stroke="#f6f6f4" stroke-width="1.5"/>
<path d="M14.5 -17 V17" stroke="#f6f6f4" stroke-width="1.1"/>
<circle cx="-1" cy="1" r="14" fill="#f5f5f4"/>
<circle cx="1.5" cy="3" r="3.8" fill="#e4e0dc"/>
</g>
<g transform="translate(503.50 167.40) rotate(60)">
<rect x="-18" y="-18" width="36" height="36" fill="#b9b9ba" stroke="#f6f6f4" stroke-width="1.5"/>
<path d="M-17 -14.5 H17" stroke="#f6f6f4" stroke-width="1.1"/>
<circle cx="-1" cy="1" r="14" fill="#f5f5f4"/>
<circle cx="1.5" cy="3" r="3.8" fill="#e4e0dc"/>
</g>
<g transform="translate(441.50 103.75) rotate(30)">
<rect x="-18" y="-18" width="36" height="36" fill="#b9b9ba" stroke="#f6f6f4" stroke-width="1.5"/>
<path d="M-17 -14.5 H17" stroke="#f6f6f4" stroke-width="1.1"/>
<circle cx="-1" cy="1" r="14" fill="#f5f5f4"/>
<circle cx="1.5" cy="3" r="3.8" fill="#e4e0dc"/>
</g>
<text x="283.7" y="36.6" font-size="17" font-weight="bold" fill="#f6f6f4" text-anchor="middle" dominant-baseline="central" transform="rotate(-90 283.7 36.6)" textLength="22" lengthAdjust="spacingAndGlyphs">On</text>
<text x="262.5" y="76.5" font-size="16.5" font-weight="bold" fill="#f6f6f4" text-anchor="middle" dominant-baseline="central" transform="rotate(153 262.5 76.5)" textLength="34" lengthAdjust="spacingAndGlyphs">GND</text>
<text x="219.5" y="104.7" font-size="16.5" font-weight="bold" fill="#f6f6f4" text-anchor="middle" dominant-baseline="central" transform="rotate(90 219.5 104.7)" textLength="29" lengthAdjust="spacingAndGlyphs">SCL</text>
<text x="201" y="131.5" font-size="15.5" font-weight="bold" fill="#f6f6f4" text-anchor="middle" dominant-baseline="central" transform="rotate(120 201 131.5)" textLength="17" lengthAdjust="spacingAndGlyphs">#3</text>
<text x="180" y="167.5" font-size="16.5" font-weight="bold" fill="#f6f6f4" text-anchor="middle" dominant-baseline="central" transform="rotate(90 180 167.5)" textLength="31" lengthAdjust="spacingAndGlyphs">SDA</text>
<text x="161.6" y="199" font-size="15.5" font-weight="bold" fill="#f6f6f4" text-anchor="middle" dominant-baseline="central" transform="rotate(120 161.6 199)" textLength="17" lengthAdjust="spacingAndGlyphs">#2</text>
<text x="166" y="245" font-size="16.5" font-weight="bold" fill="#f6f6f4" text-anchor="middle" dominant-baseline="central" transform="rotate(90 166 245)" textLength="37" lengthAdjust="spacingAndGlyphs">3.3V</text>
<text x="173" y="301" font-size="16.5" font-weight="bold" fill="#f6f6f4" text-anchor="middle" dominant-baseline="central" transform="rotate(55 173 301)" textLength="23" lengthAdjust="spacingAndGlyphs">RX</text>
<text x="181.5" y="327" font-size="15.5" font-weight="bold" fill="#f6f6f4" text-anchor="middle" dominant-baseline="central" transform="rotate(90 181.5 327)" textLength="18" lengthAdjust="spacingAndGlyphs">#0</text>
<text x="208.5" y="365" font-size="16.5" font-weight="bold" fill="#f6f6f4" text-anchor="middle" dominant-baseline="central" transform="rotate(55 208.5 365)" textLength="22" lengthAdjust="spacingAndGlyphs">TX</text>
<text x="222" y="383.5" font-size="15.5" font-weight="bold" fill="#f6f6f4" text-anchor="middle" dominant-baseline="central" transform="rotate(60 222 383.5)" textLength="18" lengthAdjust="spacingAndGlyphs">#1</text>
<text x="263" y="414" font-size="17" font-weight="bold" fill="#f6f6f4" text-anchor="middle" dominant-baseline="central" transform="rotate(30 263 414)" textLength="37" lengthAdjust="spacingAndGlyphs">GND</text>
<text x="275.4" y="345.9" font-size="16.5" font-weight="bold" fill="#f6f6f4" text-anchor="middle" dominant-baseline="central" transform="rotate(0 275.4 345.9)" textLength="17.5" lengthAdjust="spacingAndGlyphs">#5</text>
<text x="306.25" y="237.5" font-size="17" font-weight="bold" fill="#f6f6f4" text-anchor="middle" dominant-baseline="central" transform="rotate(0 306.25 237.5)" textLength="19.8" lengthAdjust="spacingAndGlyphs">#4</text>
<text x="322.5" y="79" font-size="17" font-weight="bold" fill="#f6f6f4" text-anchor="middle" dominant-baseline="central" transform="rotate(0 322.5 79)" textLength="25" lengthAdjust="spacingAndGlyphs">#17</text>
<text x="359.4" y="181.4" font-size="17.5" font-weight="bold" fill="#f6f6f4" text-anchor="middle" dominant-baseline="central" transform="rotate(0 359.4 181.4)" textLength="46" lengthAdjust="spacingAndGlyphs">RESET</text>
<text x="410.4" y="237.5" font-size="17" font-weight="bold" fill="#f6f6f4" text-anchor="middle" dominant-baseline="central" transform="rotate(0 410.4 237.5)" textLength="24" lengthAdjust="spacingAndGlyphs">#19</text>
<text x="435" y="35" font-size="16" font-weight="bold" fill="#f6f6f4" text-anchor="middle" dominant-baseline="central" transform="rotate(90 435 35)" textLength="25" lengthAdjust="spacingAndGlyphs">#13</text>
<text x="456" y="78.75" font-size="16.5" font-weight="bold" fill="#f6f6f4" text-anchor="middle" dominant-baseline="central" transform="rotate(210 456 78.75)" textLength="34" lengthAdjust="spacingAndGlyphs">3.3V</text>
<text x="508.75" y="122.5" font-size="15.5" font-weight="bold" fill="#f6f6f4" text-anchor="middle" dominant-baseline="central" transform="rotate(240 508.75 122.5)" textLength="25" lengthAdjust="spacingAndGlyphs">#10</text>
<text x="541" y="181" font-size="15.5" font-weight="bold" fill="#f6f6f4" text-anchor="middle" dominant-baseline="central" transform="rotate(250 541 181)" textLength="19" lengthAdjust="spacingAndGlyphs">#9</text>
<text x="554.5" y="246" font-size="16.5" font-weight="bold" fill="#f6f6f4" text-anchor="middle" dominant-baseline="central" transform="rotate(-90 554.5 246)" textLength="38" lengthAdjust="spacingAndGlyphs">GND</text>
<text x="542.5" y="308.75" font-size="15.5" font-weight="bold" fill="#f6f6f4" text-anchor="middle" dominant-baseline="central" transform="rotate(-60 542.5 308.75)" textLength="18" lengthAdjust="spacingAndGlyphs">#6</text>
<text x="509" y="370.5" font-size="16.5" font-weight="bold" fill="#f6f6f4" text-anchor="middle" dominant-baseline="central" transform="rotate(-60 509 370.5)" textLength="27" lengthAdjust="spacingAndGlyphs">#12</text>
<text x="466" y="413" font-size="16.5" font-weight="bold" fill="#f6f6f4" text-anchor="middle" dominant-baseline="central" transform="rotate(-22 466 413)" textLength="42" lengthAdjust="spacingAndGlyphs">VBATT</text>
<text x="358.5" y="376.5" font-size="17" font-weight="bold" fill="#f6f6f4" text-anchor="middle" dominant-baseline="central" transform="rotate(0 358.5 376.5)" textLength="25.5" lengthAdjust="spacingAndGlyphs">#21</text>
<text x="321" y="351" font-size="16" font-weight="bold" fill="#f6f6f4" text-anchor="middle" dominant-baseline="central" transform="rotate(0 321 351)">+</text>
<text x="395" y="351" font-size="12" font-weight="bold" fill="#f6f6f4" text-anchor="middle" dominant-baseline="central" transform="rotate(0 395 351)">–</text>
<path d="M355 367.5 L360 361 L365 367.5 Z" fill="#f6f6f4"/>
<path d="M290 342.5 L307.3 337 L307.3 341.8 L290 347.3 Z M290 343 H293 V363 H290 Z M304.3 338 H307.3 V359.6 H304.3 Z" fill="#f6f6f4"/>
<ellipse cx="287.4" cy="362.8" rx="4.8" ry="3.6" transform="rotate(-25 287.4 362.8)" fill="#f6f6f4"/>
<ellipse cx="301.7" cy="359.4" rx="4.8" ry="3.6" transform="rotate(-25 301.7 359.4)" fill="#f6f6f4"/>
<path d="M295 91 L299 80 L302 84 L308 79 L311 83 L305 87 L308 90 Z" fill="#f6f6f4"/>
<circle cx="49.7" cy="159.7" r="25.7" fill="#fff" stroke="#0ea6bc" stroke-width="6.4"/>
<circle cx="707.9" cy="163" r="25.7" fill="#fff" stroke="#0ea6bc" stroke-width="6.4"/>
<circle cx="558.6" cy="507.3" r="25.7" fill="#fff" stroke="#0ea6bc" stroke-width="6.4"/>
<path d="M44.6 149.2 H53.1 V168.3 H48.7 V153.3 H44.6 Z" fill="#0ea6bc"/>
<text x="707.8" y="171.6" font-size="27.5" font-weight="bold" fill="#0ea6bc" stroke="#0ea6bc" stroke-width="0.9" text-anchor="middle">2</text>
<path d="M551.6 500.3 H562.6 L556.9 507.4 C566.2 506.9 566.9 516.7 558.4 516.7 C555.6 516.7 553.5 515.8 552.2 514" fill="none" stroke="#0ea6bc" stroke-width="4.4" stroke-linejoin="round"/>
<path d="M561 498.3 H565 L563.5 502.3 H561 Z" fill="#0ea6bc"/>
<text x="14.85" y="214" font-size="27" font-weight="bold" fill="#0ea6bc" stroke="#0ea6bc" stroke-width="0.7" stroke-linejoin="round" textLength="71.5" lengthAdjust="spacingAndGlyphs">Light</text>
<text x="2.55" y="243" font-size="27" font-weight="bold" fill="#0ea6bc" stroke="#0ea6bc" stroke-width="0.7" stroke-linejoin="round" textLength="95.5" lengthAdjust="spacingAndGlyphs">Sensor</text>
<text x="617.35" y="217.5" font-size="27" font-weight="bold" fill="#0ea6bc" stroke="#0ea6bc" stroke-width="0.7" stroke-linejoin="round" textLength="179.8" lengthAdjust="spacingAndGlyphs">Temperature</text>
<text x="660.35" y="245.7" font-size="27" font-weight="bold" fill="#0ea6bc" stroke="#0ea6bc" stroke-width="0.7" stroke-linejoin="round" textLength="94.8" lengthAdjust="spacingAndGlyphs">Sensor</text>
<text x="514.6" y="562" font-size="27" font-weight="bold" fill="#0ea6bc" stroke="#0ea6bc" stroke-width="0.7" stroke-linejoin="round" textLength="88.55" lengthAdjust="spacingAndGlyphs">Sound</text>
<text x="511.6" y="590.5" font-size="27" font-weight="bold" fill="#0ea6bc" stroke="#0ea6bc" stroke-width="0.7" stroke-linejoin="round" textLength="93.8" lengthAdjust="spacingAndGlyphs">Sensor</text>
<rect x="76" y="158.5" width="11.5" height="3" fill="#0ea6bc"/>
<rect x="103.75" y="158.5" width="16.25" height="3" fill="#0ea6bc"/>
<rect x="136.25" y="158.5" width="16.25" height="3" fill="#0ea6bc"/>
<rect x="168.75" y="158.5" width="16.25" height="3" fill="#0ea6bc"/>
<rect x="201.25" y="158.5" width="16.25" height="3" fill="#0ea6bc"/>
<rect x="232" y="158.3" width="15" height="3" fill="#0ea6bc"/>
<path d="M260.5 159.8 L245.5 155.3 L245.5 164.2 Z" fill="#0ea6bc"/>
<rect x="500" y="161.6" width="16.3" height="3" fill="#0ea6bc"/>
<rect x="532.2" y="161.6" width="16.3" height="3" fill="#0ea6bc"/>
<rect x="564.4" y="161.6" width="16.3" height="3" fill="#0ea6bc"/>
<rect x="596.5" y="161.6" width="16.3" height="3" fill="#0ea6bc"/>
<rect x="628.7" y="161.6" width="16.3" height="3" fill="#0ea6bc"/>
<rect x="660.8" y="161.6" width="19" height="3" fill="#0ea6bc"/>
<rect x="470" y="161.6" width="15" height="3" fill="#0ea6bc"/>
<path d="M450 163.1 L472.5 158.8 L472.5 167.4 Z" fill="#0ea6bc"/>
<path d="M439.3 349 L434.3 366 L444.2 366 Z" fill="#0ea6bc"/>
<rect x="437.5" y="364" width="3" height="3" fill="#0ea6bc"/>
<rect x="437.3" y="384" width="3.2" height="14.5" fill="#0ea6bc"/>
<rect x="437.3" y="412.5" width="3.2" height="14.5" fill="#0ea6bc"/>
<rect x="437.3" y="441" width="3.2" height="14.5" fill="#0ea6bc"/>
<rect x="437.3" y="470.5" width="3.2" height="14.5" fill="#0ea6bc"/>
<rect x="437.3" y="499.6" width="3.4" height="9.2" fill="#0ea6bc"/>
<rect x="437.3" y="505.4" width="9" height="3.4" fill="#0ea6bc"/>
<rect x="461.6" y="505.4" width="14.4" height="3.2" fill="#0ea6bc"/>
<rect x="491.2" y="505.4" width="14.4" height="3.2" fill="#0ea6bc"/>
<rect x="520.8" y="505.4" width="10" height="3.2" fill="#0ea6bc"/>
</svg></body></html>
